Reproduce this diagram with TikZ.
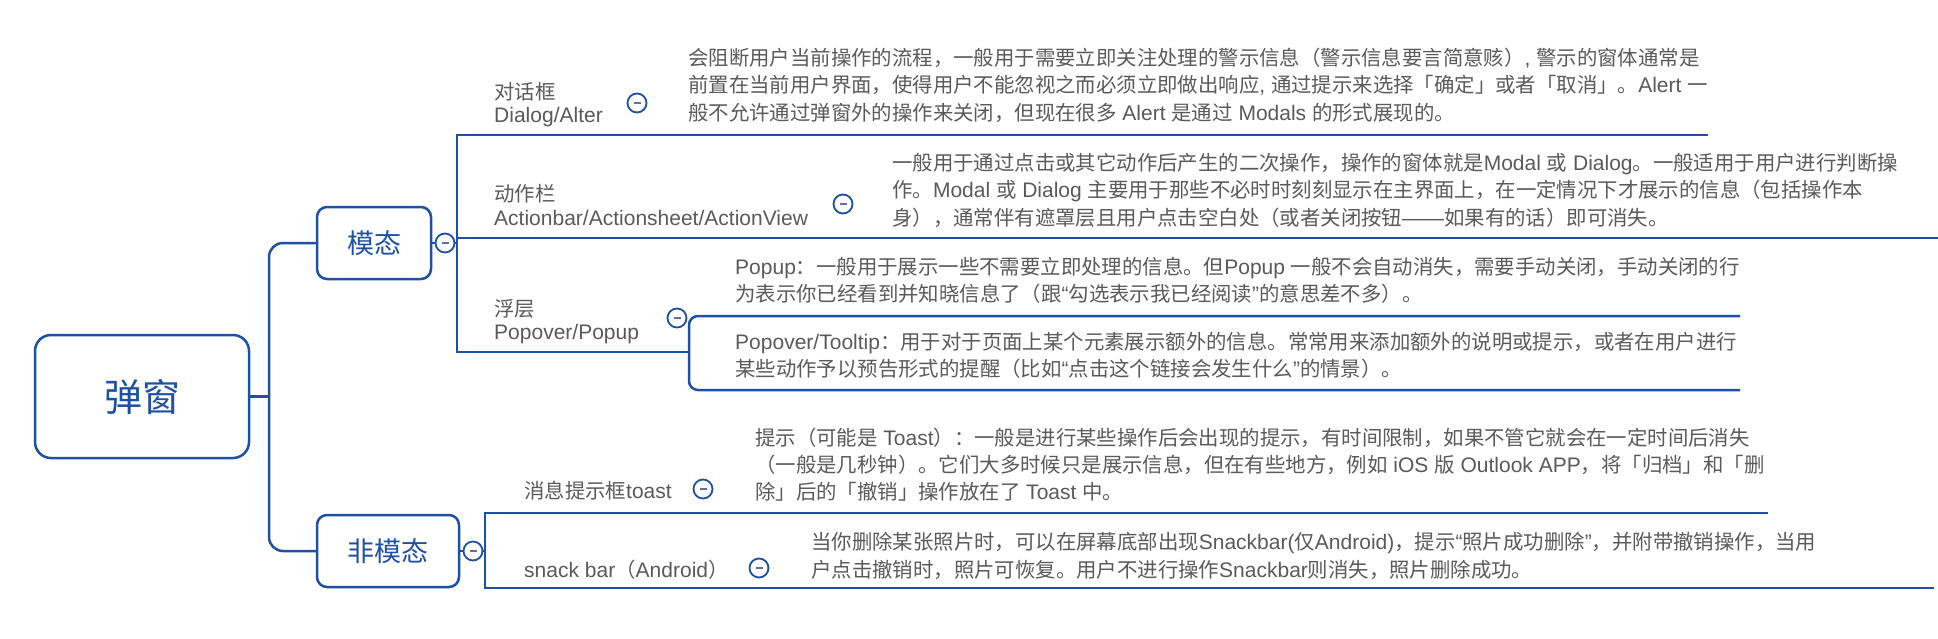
\documentclass[tikz,border=0pt]{standalone}
\usepackage{fontspec}
\setmainfont{Liberation Sans}[Scale=1.03]
\newfontfamily\cjk{Noto Sans CJK SC}
\XeTeXinterchartokenstate=1
\newXeTeXintercharclass\CJKcls
\newcount\chcnt
\chcnt="4E00
\loop
  \XeTeXcharclass\chcnt=\CJKcls
  \advance\chcnt by 1
\ifnum\chcnt<"A000 \repeat
\chcnt="3000
\loop
  \XeTeXcharclass\chcnt=\CJKcls
  \advance\chcnt by 1
\ifnum\chcnt<"3040 \repeat
\chcnt="FF00
\loop
  \XeTeXcharclass\chcnt=\CJKcls
  \advance\chcnt by 1
\ifnum\chcnt<"FFF0 \repeat
\XeTeXinterchartoks 0 \CJKcls = {\cjk}
\XeTeXinterchartoks 4095 \CJKcls = {\cjk}
\XeTeXinterchartoks \CJKcls 0 = {\rmfamily}
\XeTeXinterchartoks \CJKcls 4095 = {\rmfamily}
\newcommand\lines[2][27.5pt]{\vtop{\baselineskip=#1\relax\lineskiplimit=-100pt\lineskip=0pt\halign{##\hfil\cr#2\crcr}}}
\definecolor{lineblue}{RGB}{30,80,165}
\definecolor{txtgray}{RGB}{90,90,90}
\definecolor{minusc}{RGB}{100,110,160}
\begin{document}
\begin{tikzpicture}[x=1pt,y=-1pt,
  conn/.style={draw=lineblue, line width=2.5pt},
  bluebox/.style={draw=lineblue, line width=2.5pt, fill=white, text=lineblue, inner sep=0pt},
  circ/.style={circle, draw=lineblue, line width=1.8pt, fill=white, minimum size=19pt, inner sep=0pt,
    path picture={\draw[minusc, line width=1.6pt] ([xshift=-3.5pt]path picture bounding box.center) -- ([xshift=3.5pt]path picture bounding box.center);}},
  txt/.style={text=txtgray, inner sep=0pt, anchor=base west, font=\fontsize{20.4}{27.5}\selectfont}
]
\fill[white] (0,0) rectangle (1938,638);
\useasboundingbox (0,0) rectangle (1938,638);

% main boxes
\node[bluebox, minimum width=214pt, minimum height=123pt, rounded corners=16pt, font=\cjk\fontsize{38}{38}\selectfont] (root) at (142,396.5) {弹窗};
\node[bluebox, minimum width=114pt, minimum height=72pt, rounded corners=10pt, font=\cjk\fontsize{27}{27}\selectfont] (mo) at (374,243) {模态};
\node[bluebox, minimum width=142pt, minimum height=72pt, rounded corners=10pt, font=\cjk\fontsize{27}{27}\selectfont] (fm) at (388,551) {非模态};

% root connectors
\coordinate (rj) at (269,396.5);
\draw[conn] (root.east) -- (rj);
\draw[conn, rounded corners=14pt] (mo.west) -| (rj) |- (fm.west);

% modal group
\node[circ] (c1) at (445,243) {};
\draw[conn] (mo.east) -- (c1.west);
\coordinate (mb) at (457,243);
\draw[conn] (c1.east) -- (mb);
\coordinate (mbt) at (457,135);
\coordinate (mbb) at (457,352);
\coordinate (dEnd) at (1708,135);
\coordinate (pj) at (689,352);
\draw[conn] (dEnd) -- (mbt) -- (mbb) -- (pj);
\coordinate (am) at (457,238);
\coordinate (aEnd) at (1938,238);
\draw[conn] (am) -- (aEnd);
\coordinate (pt) at (1740,316);
\coordinate (pb) at (1740,390);
\draw[conn, rounded corners=9pt] (pt) -| (pj) |- (pb);

% non-modal group
\node[circ] (c2) at (473,551) {};
\draw[conn] (fm.east) -- (c2.west);
\coordinate (nb) at (485,551);
\draw[conn] (c2.east) -- (nb);
\coordinate (tEnd) at (1768,513);
\coordinate (sEnd) at (1934,588);
\draw[conn] (tEnd) -| (nb) |- (sEnd);

% child circles
\node[circ] (c3) at (637,103) {};
\node[circ] (c4) at (843,204) {};
\node[circ] (c5) at (677,318) {};
\node[circ] (c6) at (703,489) {};
\node[circ] (c7) at (759,568) {};

% labels
\node[txt] (l1) at (494,99) {\lines[23pt]{对话框\cr Dialog/Alter}};
\node[txt] (l2) at (494,201) {\lines[24pt]{动作栏\cr Actionbar/Actionsheet/ActionView}};
\node[txt] (l3) at (494,316) {\lines[23pt]{浮层\cr Popover/Popup}};
\node[txt] (l4) at (524,498) {消息提示框toast};
\node[txt] (l5) at (524,577) {snack bar（Android）};

% descriptions
\node[txt] (d1) at (688,65) {\lines{会阻断用户当前操作的流程，一般用于需要立即关注处理的警示信息（警示信息要言简意赅）, 警示的窗体通常是\cr
前置在当前用户界面，使得用户不能忽视之而必须立即做出响应, 通过提示来选择「确定」或者「取消」。Alert 一\cr
般不允许通过弹窗外的操作来关闭，但现在很多 Alert 是通过 Modals 的形式展现的。}};
\node[txt] (d2) at (892,170) {\lines{一般用于通过点击或其它动作后产生的二次操作，操作的窗体就是Modal 或 Dialog。一般适用于用户进行判断操\cr
作。Modal 或 Dialog 主要用于那些不必时时刻刻显示在主界面上，在一定情况下才展示的信息（包括操作本\cr
身），通常伴有遮罩层且用户点击空白处（或者关闭按钮——如果有的话）即可消失。}};
\node[txt] (d3) at (735,274) {\lines{Popup：一般用于展示一些不需要立即处理的信息。但Popup 一般不会自动消失，需要手动关闭，手动关闭的行\cr
为表示你已经看到并知晓信息了（跟“勾选表示我已经阅读”的意思差不多）。}};
\node[txt] (d4) at (735,349) {\lines{Popover/Tooltip：用于对于页面上某个元素展示额外的信息。常常用来添加额外的说明或提示，或者在用户进行\cr
某些动作予以预告形式的提醒（比如“点击这个链接会发生什么”的情景）。}};
\node[txt] (d5) at (755,445) {\lines[27pt]{提示（可能是 Toast）：一般是进行某些操作后会出现的提示，有时间限制，如果不管它就会在一定时间后消失\cr
（一般是几秒钟）。它们大多时候只是展示信息，但在有些地方，例如 iOS 版 Outlook APP，将「归档」和「删\cr
除」后的「撤销」操作放在了 Toast 中。}};
\node[txt] (d6) at (811,549) {\lines[28pt]{当你删除某张照片时，可以在屏幕底部出现Snackbar(仅Android)，提示“照片成功删除”，并附带撤销操作，当用\cr
户点击撤销时，照片可恢复。用户不进行操作Snackbar则消失，照片删除成功。}};
\end{tikzpicture}
\end{document}
